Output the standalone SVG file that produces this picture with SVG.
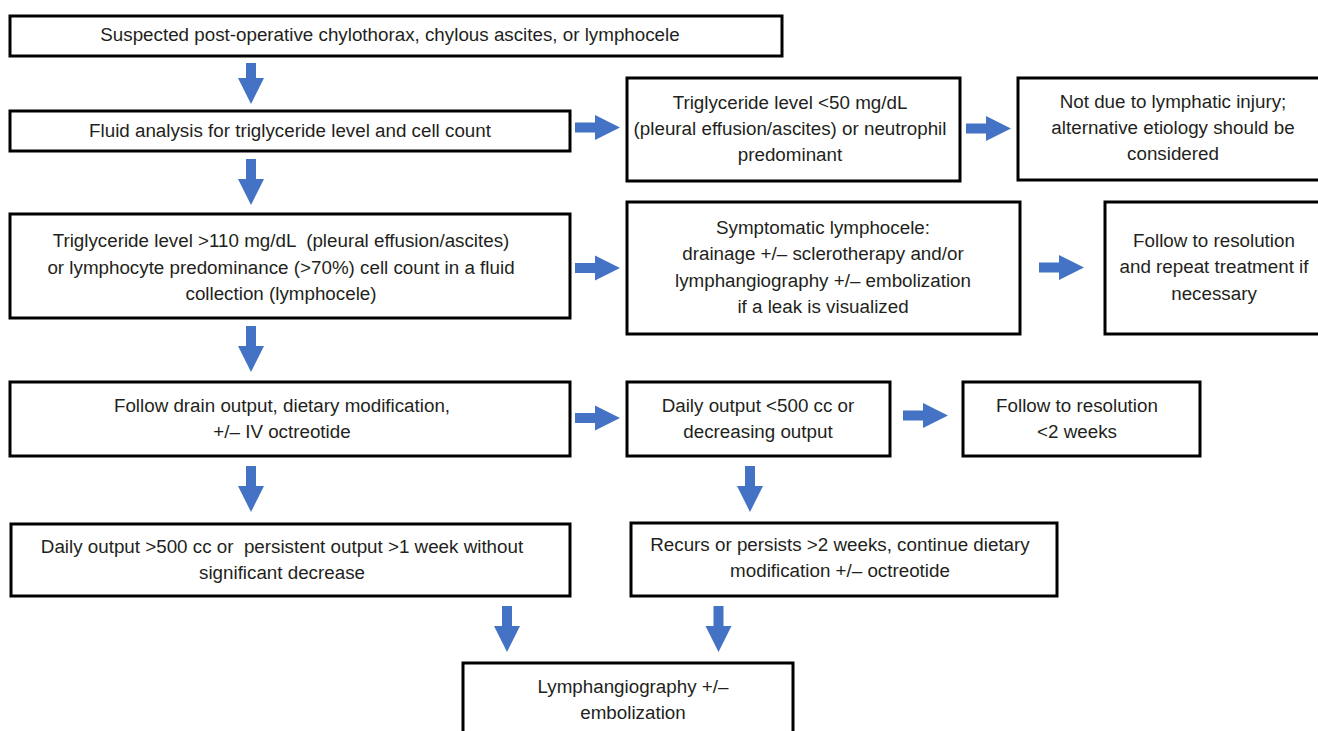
<svg xmlns="http://www.w3.org/2000/svg" width="1318" height="731" viewBox="0 0 1318 731">
<style>
.box{fill:#fff;stroke:#000;stroke-width:3}
.t{font-family:"Liberation Sans",Arial,sans-serif;font-size:18.8px;fill:#231f20;text-anchor:middle;white-space:pre}
.arr{fill:#4472C4}
</style>
<defs>
<path id="ra" d="M0,-5 H20 V-12.5 L45,0 L20,12.5 V5 H0 Z"/>
<path id="da" d="M-5,0 V20 H-13 L0,46 L13,20 H5 V0 Z"/>
</defs>
<rect width="1318" height="731" fill="#fff"/>
<g id="connectors" class="arr">
<path d="M-5,0 V15 H-13 L0,41 L13,15 H5 V0 Z" transform="translate(251,63)"/>
<use href="#da" x="251" y="159"/>
<use href="#da" x="251" y="326"/>
<use href="#da" x="251" y="466"/>
<use href="#da" x="750" y="466"/>
<use href="#da" x="507" y="606"/>
<use href="#da" x="718.5" y="606"/>
<use href="#ra" x="575" y="127.5"/>
<use href="#ra" x="966" y="128.5"/>
<use href="#ra" x="575" y="268"/>
<use href="#ra" x="1039" y="267.5"/>
<use href="#ra" x="575" y="418"/>
<use href="#ra" x="903" y="415.5"/>
</g>
<g id="n1"><rect class="box" x="10" y="16" width="772" height="40"/>
<text class="t" x="390" y="41">Suspected post-operative chylothorax, chylous ascites, or lymphocele</text></g>
<g id="n2"><rect class="box" x="10" y="111" width="560" height="40"/>
<text class="t" x="290" y="137">Fluid analysis for triglyceride level and cell count</text></g>
<g id="n3"><rect class="box" x="627" y="78" width="333" height="103"/>
<text class="t" x="790" y="109">Triglyceride level &lt;50 mg/dL</text>
<text class="t" x="790" y="135">(pleural effusion/ascites) or neutrophil</text>
<text class="t" x="790" y="161">predominant</text></g>
<g id="n4"><rect class="box" x="1018" y="78" width="310" height="102"/>
<text class="t" x="1173" y="108">Not due to lymphatic injury;</text>
<text class="t" x="1173" y="134">alternative etiology should be</text>
<text class="t" x="1173" y="160">considered</text></g>
<g id="n5"><rect class="box" x="10" y="214" width="560" height="104"/>
<text class="t" x="281" y="247">Triglyceride level &gt;110 mg/dL  (pleural effusion/ascites)</text>
<text class="t" x="281" y="274">or lymphocyte predominance (&gt;70%) cell count in a fluid</text>
<text class="t" x="281" y="300">collection (lymphocele)</text></g>
<g id="n6"><rect class="box" x="627" y="202" width="393" height="132"/>
<text class="t" x="823" y="234">Symptomatic lymphocele:</text>
<text class="t" x="823" y="260">drainage +/– sclerotherapy and/or</text>
<text class="t" x="823" y="287">lymphangiography +/– embolization</text>
<text class="t" x="823" y="313">if a leak is visualized</text></g>
<g id="n7"><rect class="box" x="1105" y="202" width="230" height="132"/>
<text class="t" x="1214" y="247">Follow to resolution</text>
<text class="t" x="1214" y="273">and repeat treatment if</text>
<text class="t" x="1214" y="300">necessary</text></g>
<g id="n8"><rect class="box" x="10" y="382" width="560" height="74"/>
<text class="t" x="282" y="412">Follow drain output, dietary modification,</text>
<text class="t" x="282" y="438">+/– IV octreotide</text></g>
<g id="n9"><rect class="box" x="627" y="382" width="263" height="74"/>
<text class="t" x="758" y="412">Daily output &lt;500 cc or</text>
<text class="t" x="758" y="438">decreasing output</text></g>
<g id="n10"><rect class="box" x="963" y="382" width="237" height="74"/>
<text class="t" x="1077" y="412">Follow to resolution</text>
<text class="t" x="1077" y="438">&lt;2 weeks</text></g>
<g id="n11"><rect class="box" x="11" y="524" width="559" height="72"/>
<text class="t" x="282" y="553">Daily output &gt;500 cc or  persistent output &gt;1 week without</text>
<text class="t" x="282" y="579">significant decrease</text></g>
<g id="n12"><rect class="box" x="631" y="523" width="426" height="73"/>
<text class="t" x="840" y="551">Recurs or persists &gt;2 weeks, continue dietary</text>
<text class="t" x="840" y="577">modification +/– octreotide</text></g>
<g id="n13"><rect class="box" x="463" y="663" width="330" height="80"/>
<text class="t" x="633" y="693">Lymphangiography +/–</text>
<text class="t" x="633" y="719">embolization</text></g>
</svg>
